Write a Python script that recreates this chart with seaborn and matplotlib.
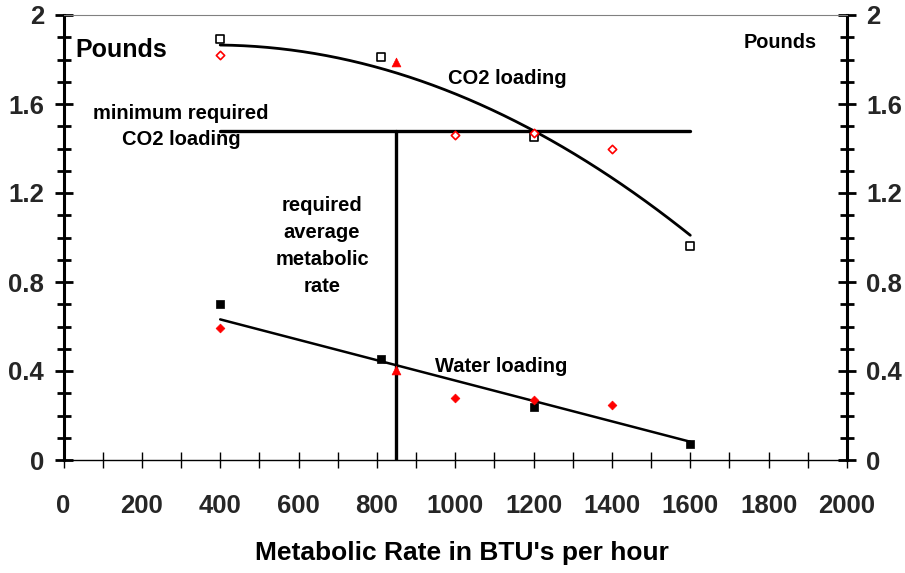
import numpy as np
import pandas as pd
import matplotlib
matplotlib.use("Agg")
import matplotlib.pyplot as plt
import seaborn as sns
from matplotlib.ticker import MultipleLocator, FuncFormatter

sns.set_theme(style="white")
plt.rcParams['font.family'] = ['Liberation Sans', 'DejaVu Sans']
plt.rcParams['font.weight'] = 'bold'

# ---- data ----
co2_sq_x = [400, 810, 1200, 1600]
co2_sq_y = [1.89, 1.81, 1.45, 0.96]
co2_dia_x = [400, 1000, 1200, 1400]
co2_dia_y = [1.82, 1.46, 1.47, 1.40]
co2_tri_x = [850]
co2_tri_y = [1.79]

water_sq_x = [400, 810, 1200, 1600]
water_sq_y = [0.70, 0.455, 0.24, 0.072]
water_dia_x = [400, 1000, 1200, 1400]
water_dia_y = [0.595, 0.28, 0.27, 0.245]
water_tri_x = [850]
water_tri_y = [0.405]

co2_fit_x = [400, 1200, 1600]
co2_fit_y = [1.865, 1.48, 1.01]
water_fit_x = [400, 1600]
water_fit_y = [0.632, 0.082]

min_co2 = 1.48
min_co2_span = [400, 1600]
req_rate = 850

x_ticks = [0, 200, 400, 600, 800, 1000, 1200, 1400, 1600, 1800, 2000]
y_ticks = [0, 0.4, 0.8, 1.2, 1.6, 2]

W, H = 905, 573
fig = plt.figure(figsize=(W / 100, H / 100), dpi=100)
L, R, B, T = 63.5, 847, 460, 15
ax = fig.add_axes([L / W, 1 - B / H, (R - L) / W, (B - T) / H])

# trend lines
coef = np.polyfit(co2_fit_x, co2_fit_y, 2)
cx = np.linspace(co2_fit_x[0], co2_fit_x[-1], 200)
sns.lineplot(x=cx, y=np.polyval(coef, cx), color='black', lw=2.0, ax=ax)
sns.lineplot(x=water_fit_x, y=water_fit_y, color='black', lw=1.8, ax=ax)

# requirement lines
sns.lineplot(x=min_co2_span, y=[min_co2, min_co2], color='black', lw=2.4, ax=ax)
sns.lineplot(x=[req_rate, req_rate], y=[0, min_co2], color='black', lw=2.4,
             estimator=None, sort=False, ax=ax)

# markers
sns.scatterplot(x=co2_sq_x, y=co2_sq_y, marker='s', s=34, color='white',
                edgecolor='black', linewidth=1.2, ax=ax, zorder=5)
sns.scatterplot(x=co2_dia_x, y=co2_dia_y, marker='D', s=18, color='white',
                edgecolor='red', linewidth=1.2, ax=ax, zorder=5)
sns.scatterplot(x=co2_tri_x, y=co2_tri_y, marker='^', s=40, color='red',
                edgecolor='red', linewidth=0.5, ax=ax, zorder=5)
sns.scatterplot(x=water_sq_x, y=water_sq_y, marker='s', s=36, color='black',
                edgecolor='black', linewidth=0.5, ax=ax, zorder=5)
sns.scatterplot(x=water_dia_x, y=water_dia_y, marker='D', s=20, color='red',
                edgecolor='red', linewidth=0.5, ax=ax, zorder=5)
sns.scatterplot(x=water_tri_x, y=water_tri_y, marker='^', s=40, color='red',
                edgecolor='red', linewidth=0.5, ax=ax, zorder=5)

ax.set_xlim(0, 2000)
ax.set_ylim(0, 2)
ax.set_xticks(x_ticks)
ax.xaxis.set_minor_locator(MultipleLocator(100))
ax.set_yticks(y_ticks)
ax.yaxis.set_minor_locator(MultipleLocator(0.1))
fmt = FuncFormatter(lambda v, p: f"{v:g}")
ax.yaxis.set_major_formatter(fmt)

ax.tick_params(axis='x', which='both', direction='inout', length=12, width=1,
               color='black', bottom=True, top=False, labelsize=18.5, pad=18.5)
ax.tick_params(axis='y', which='major', direction='inout', length=13, width=2,
               color='black', left=True, right=True, labelleft=True,
               labelright=True, labelsize=18.5, pad=7.5)
ax.tick_params(axis='y', which='minor', direction='inout', length=10, width=2,
               color='black', left=True, right=True)
for lab in ax.get_xticklabels() + ax.get_yticklabels():
    lab.set_fontweight('bold')

for side in ['left', 'right']:
    ax.spines[side].set_linewidth(2.2)
    ax.spines[side].set_color('black')
ax.spines['bottom'].set_linewidth(1.0)
ax.spines['bottom'].set_color('black')
ax.spines['top'].set_linewidth(0.8)
ax.spines['top'].set_color('#808080')
ax.set_xlabel('')
ax.set_ylabel('')


def ftext(px, py, s, size):
    fig.text(px / W, 1 - py / H, s, ha='center', va='baseline',
             fontsize=size, fontweight='bold', color='black')


ftext(121.5, 57, 'Pounds', 18)
ftext(780, 47.5, 'Pounds', 14.3)
ftext(507, 84, 'CO2 loading', 14.5)
for i, line in enumerate(['minimum required', 'CO2 loading']):
    ftext(181, 119 + 26 * i, line, 14.5)
for i, line in enumerate(['required', 'average', 'metabolic', 'rate']):
    ftext(322, 211.5 + 26.7 * i, line, 14.5)
ftext(501, 371.5, 'Water loading', 14.5)
ftext(461.5, 560, "Metabolic Rate in BTU's per hour", 19)

fig.savefig('out.png', dpi=100)
